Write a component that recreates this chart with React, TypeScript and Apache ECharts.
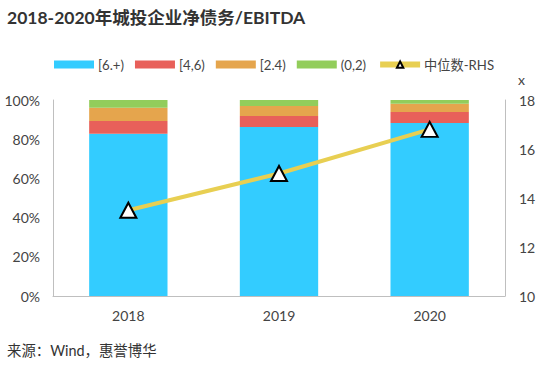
import React, { useEffect, useRef } from "react";
import * as echarts from "echarts";

const categories = ["2018", "2019", "2020"];
const seriesNames = ["[6.+)", "[4,6)", "[2.4)", "(0,2)"];
const s6plus = [82.8, 86.2, 88.3];
const s46 = [6.5, 5.6, 5.6];
const s24 = [6.8, 5.1, 4.2];
const s02 = [3.9, 3.1, 1.9];
const median = [13.5, 15.0, 16.8];
const leftTicks = [0, 20, 40, 60, 80, 100];
const rightTicks = [10, 12, 14, 16, 18];

const colors = ["#33CCFF", "#E8605A", "#E5A54D", "#92CD5B"];
const lineColor = "#E8CF52";
const FONT = "Lato, 'Noto Sans CJK SC', sans-serif";

export default function App() {
  const ref = useRef<HTMLDivElement>(null);
  useEffect(() => {
    if (!ref.current) return;
    const chart = echarts.init(ref.current, undefined, { renderer: "svg" });
    const barData = [s6plus, s46, s24, s02];
    chart.setOption({
      animation: false,
      textStyle: { fontFamily: FONT },
      title: {
        text: "2018-2020年城投企业净债务/EBITDA",
        left: 2,
        top: 4,
        textStyle: { fontSize: 17.5, fontWeight: "bold", color: "#333333", fontFamily: FONT },
      },
      legend: {
        top: 53,
        left: 49,
        itemWidth: 40,
        itemHeight: 8,
        itemGap: 11,
        textStyle: { fontSize: 13.2, color: "#444444", fontFamily: FONT, padding: [0, 0, 0, -1] },
        data: [
          ...seriesNames.map((n) => ({ name: n, icon: "rect" })),
          {
            name: "中位数-RHS",
            lineStyle: { color: lineColor, width: 6 },
          },
        ],
      },
      graphic: [
        {
          type: "text",
          left: 7,
          top: 343,
          style: { text: "来源：Wind，惠誉博华", fontSize: 14.4, fill: "#333333", fontFamily: FONT },
        },
      ],
      grid: { left: 53, right: 39, top: 100, bottom: 72 },
      xAxis: {
        type: "category",
        data: categories,
        axisLine: { lineStyle: { color: "#BFBFBF" } },
        axisTick: { show: false },
        axisLabel: { fontSize: 14, color: "#444444", margin: 12, fontFamily: FONT },
      },
      yAxis: [
        {
          type: "value",
          min: leftTicks[0],
          max: leftTicks[leftTicks.length - 1],
          interval: 20,
          axisLine: { show: true, lineStyle: { color: "#BFBFBF" } },
          axisTick: { show: false },
          splitLine: { show: false },
          axisLabel: { formatter: "{value}%", fontSize: 14, color: "#444444", margin: 13, fontFamily: FONT },
        },
        {
          type: "value",
          min: rightTicks[0],
          max: rightTicks[rightTicks.length - 1],
          interval: 2,
          name: "x",
          nameGap: 14,
          nameTextStyle: { fontSize: 14, color: "#444444", align: "left", padding: [0, 0, 0, 13] },
          axisLine: { show: true, lineStyle: { color: "#BFBFBF" } },
          axisTick: { show: false },
          splitLine: { show: false },
          axisLabel: { fontSize: 14, color: "#444444", margin: 14, fontFamily: FONT },
        },
      ],
      series: [
        ...seriesNames.map((n, i) => ({
          name: n,
          type: "bar",
          stack: "total",
          barWidth: "52%",
          data: barData[i],
          itemStyle: { color: colors[i] },
        })),
        {
          name: "中位数-RHS",
          type: "line",
          yAxisIndex: 1,
          data: median,
          symbol: "triangle",
          symbolSize: [16, 15],
          lineStyle: { color: lineColor, width: 4 },
          itemStyle: { color: "#FFFFFF", borderColor: "#000000", borderWidth: 2 },
          z: 5,
        },
      ],
    });
    return () => chart.dispose();
  }, []);
  return <div ref={ref} style={{ width: 544, height: 368, position: "absolute", left: 0, top: 0 }} />;
}
